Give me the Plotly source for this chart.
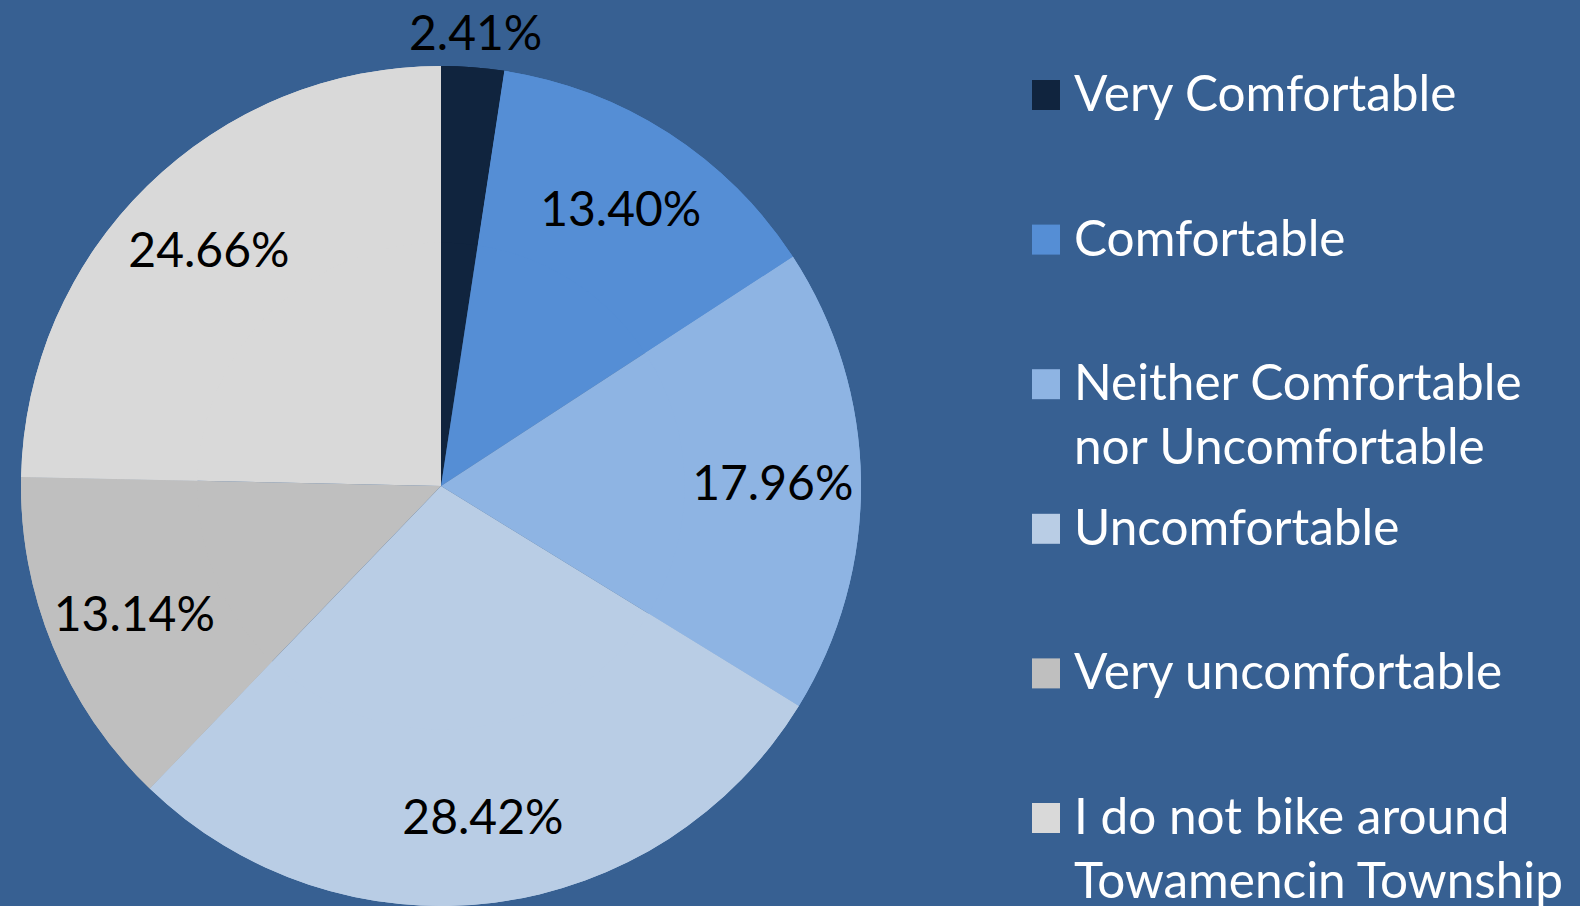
import math
import plotly.graph_objects as go

categories = [
    "Very Comfortable",
    "Comfortable",
    "Neither Comfortable<br>nor Uncomfortable",
    "Uncomfortable",
    "Very uncomfortable",
    "I do not bike around<br>Towamencin Township",
]
values = [2.41, 13.40, 17.96, 28.42, 13.14, 24.66]
colors = ["#10243E", "#558ED5", "#8EB4E3", "#B9CDE5", "#BFBFBF", "#D9D9D9"]
# slice 0 gets its label above the pie (outside); others inside
inside_positions = ["none", "inside", "inside", "inside", "inside", "inside"]

W, H = 1580, 906
BG = "#376092"
FONT = "Lato"

# pie geometry (pixels)
cx, cy, R = 441, 486, 420
domain = dict(x=[(cx - R) / W, (cx + R) / W], y=[0, (2 * R) / H])
labels = [c.replace("<br>", " ") for c in categories]

fig = go.Figure()
# full pie
fig.add_trace(go.Pie(
    labels=labels, values=values,
    marker=dict(colors=colors, line=dict(width=0)),
    sort=False, direction="clockwise", rotation=0,
    textinfo="none", domain=domain, showlegend=False,
    hoverinfo="label+value",
))
# identical outer ring on top, used to place labels toward the rim
fig.add_trace(go.Pie(
    labels=labels, values=values, hole=0.58,
    marker=dict(colors=colors, line=dict(width=0)),
    sort=False, direction="clockwise", rotation=0,
    texttemplate="%{value:.2f}%",
    textposition=inside_positions,
    insidetextorientation="horizontal",
    textfont=dict(family=FONT, size=48, color="black"),
    domain=domain, showlegend=False,
    hoverinfo="label+value",
))

annotations, shapes = [], []

# outside label for the first (small) slice, at its mid-angle
total = sum(values)
mid = (values[0] / 2) / total * 2 * math.pi
rr = R + 36
annotations.append(dict(
    text=f"{values[0]:.2f}%", xref="paper", yref="paper",
    x=(cx + rr * math.sin(mid)) / W, y=1 - (cy - rr * math.cos(mid)) / H,
    xanchor="center", yanchor="middle", showarrow=False,
    font=dict(family=FONT, size=48, color="black"),
))

# legend built from the category list
base0, pitch = 110, 144.6
LFS = 49.5
for i, (cat, col) in enumerate(zip(categories, colors)):
    b = base0 + pitch * i
    shapes.append(dict(type="rect", xref="paper", yref="paper",
                       x0=1032 / W, x1=1060 / W,
                       y0=1 - b / H, y1=1 - (b - 30) / H,
                       fillcolor=col, line=dict(width=0)))
    annotations.append(dict(text=cat, xref="paper", yref="paper",
                            x=1072 / W, y=1 - (b - 0.99 * LFS - 1) / H,
                            xanchor="left", yanchor="top", align="left",
                            showarrow=False,
                            font=dict(family=FONT, size=LFS, color="white")))

fig.update_layout(
    width=W, height=H,
    margin=dict(l=0, r=0, t=0, b=0),
    paper_bgcolor=BG, plot_bgcolor=BG,
    shapes=shapes, annotations=annotations,
)

fig.write_html("out.html", config={"displayModeBar": False},
               post_script="document.body.style.margin='0';document.body.style.overflow='hidden';")
